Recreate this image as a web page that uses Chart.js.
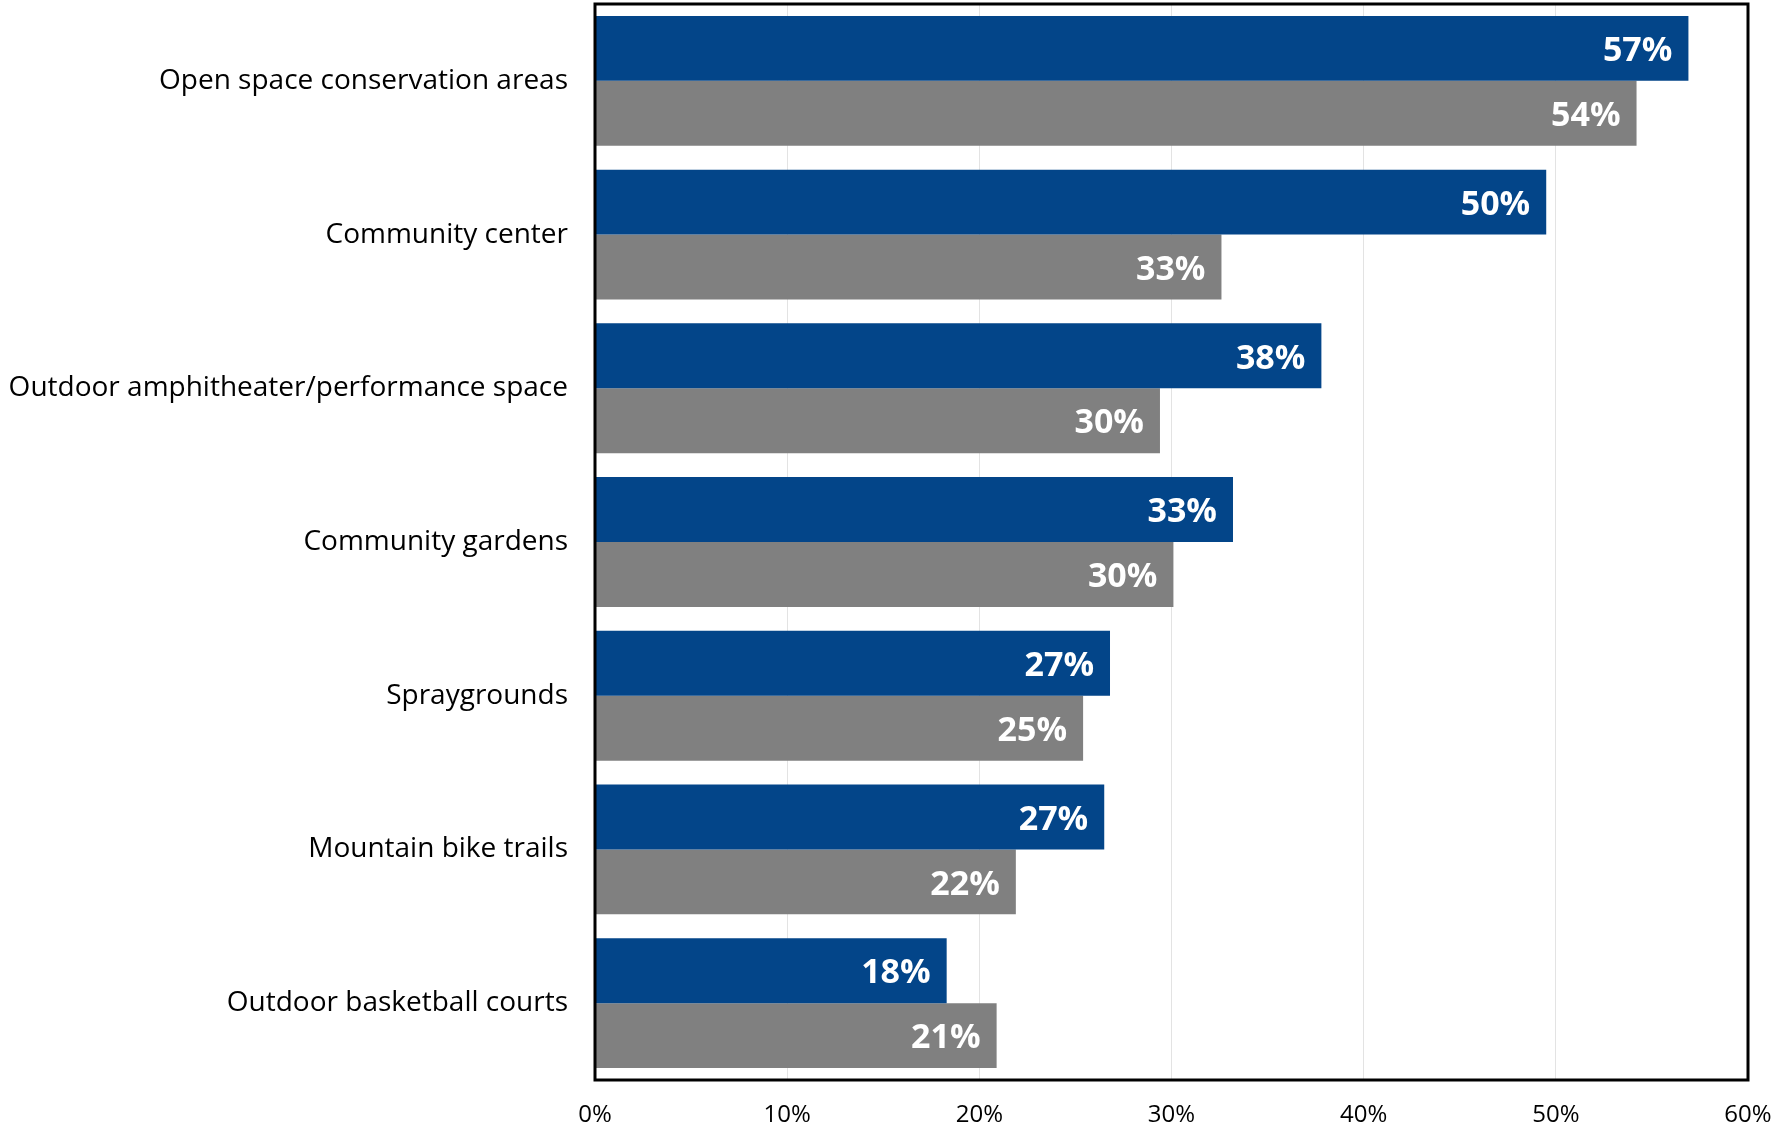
<!DOCTYPE html>
<html>
<head>
<meta charset="utf-8">
<script src="https://cdn.jsdelivr.net/npm/chart.js@4.4.1/dist/chart.umd.min.js"></script>
<style>
	html, body { margin: 0; padding: 0; background: #fff; }
	#wrap { width: 1771px; height: 1130px; }
</style>
</head>
<body>
<div id="wrap"><canvas id="myChart" width="1771" height="1130"></canvas></div>
<script>
let categories = [
	'Open space conservation areas',
	'Community center',
	'Outdoor amphitheater/performance space',
	'Community gardens',
	'Spraygrounds',
	'Mountain bike trails',
	'Outdoor basketball courts'
];
let blueValues = [56.9, 49.5, 37.8, 33.2, 26.8, 26.5, 18.3];
let greyValues = [54.2, 32.6, 29.4, 30.1, 25.4, 21.9, 20.9];
let blueLabels = ['57%', '50%', '38%', '33%', '27%', '27%', '18%'];
let greyLabels = ['54%', '33%', '30%', '30%', '25%', '22%', '21%'];
let xTicks = [0, 10, 20, 30, 40, 50, 60];

const fontFamily = '"Open Sans", "Noto Sans", sans-serif';

// box around the plot area
const frame = {
	id: 'frame',
	afterDraw(chart) {
		const { ctx, chartArea: a } = chart;
		ctx.save();
		ctx.strokeStyle = '#000';
		ctx.lineWidth = 3;
		ctx.strokeRect(a.left, a.top, a.right - a.left, a.bottom - a.top);
		ctx.restore();
	}
};

// white value labels inside the bar ends
const barLabels = {
	id: 'barLabels',
	afterDatasetsDraw(chart) {
		const ctx = chart.ctx;
		ctx.save();
		ctx.fillStyle = '#fff';
		ctx.font = 'bold 34px ' + fontFamily;
		ctx.textAlign = 'right';
		ctx.textBaseline = 'middle';
		chart.data.datasets.forEach((ds, i) => {
			chart.getDatasetMeta(i).data.forEach((bar, j) => {
				ctx.fillText(ds.valueLabels[j], bar.x - 16, bar.y + 3);
			});
		});
		ctx.restore();
	}
};

let chartJson = {
	type: 'bar',
	data: {
		labels: categories,
		datasets: [{
			data: blueValues,
			valueLabels: blueLabels,
			backgroundColor: '#034589',
			categoryPercentage: 0.845,
			barPercentage: 1
		}, {
			data: greyValues,
			valueLabels: greyLabels,
			backgroundColor: '#808080',
			categoryPercentage: 0.845,
			barPercentage: 1
		}]
	},
	options: {
		indexAxis: 'y',
		responsive: false,
		animation: false,
		layout: {
			padding: { top: 4, right: 23, bottom: 0, left: 0 }
		},
		plugins: {
			legend: { display: false },
			tooltip: { enabled: false }
		},
		scales: {
			x: {
				min: xTicks[0],
				max: xTicks[xTicks.length - 1],
				afterBuildTicks: (scale) => {
					scale.ticks = xTicks.map(v => ({ value: v }));
				},
				afterFit: (scale) => {
					scale.height = 50;
					scale.paddingLeft = 0;
					scale.paddingRight = 0;
				},
				grid: { color: '#e3e3e3', lineWidth: 1, drawTicks: false },
				border: { display: false },
				ticks: {
					padding: 21,
					color: '#000',
					font: { family: fontFamily, size: 24 },
					callback: (v) => v + '%'
				}
			},
			y: {
				afterFit: (scale) => {
					scale.width = 595;
					scale.paddingTop = 0;
					scale.paddingBottom = 0;
				},
				grid: { display: false, drawTicks: false },
				border: { display: false },
				ticks: {
					padding: 27,
					color: '#000',
					font: { family: fontFamily, size: 28 }
				}
			}
		}
	},
	plugins: [frame, barLabels]
};

const ctx = document.getElementById('myChart');
// eslint-disable-next-line no-unused-vars
const myChart = new Chart(ctx, chartJson);
</script>
</body>
</html>
